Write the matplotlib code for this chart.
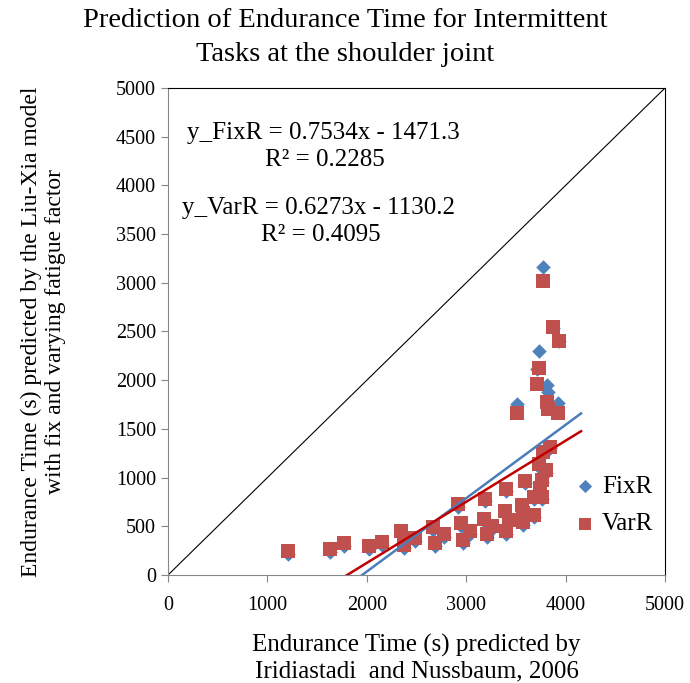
import numpy as np
import matplotlib
matplotlib.use('Agg')
from matplotlib import pyplot as plt

plt.rcParams['font.family'] = ['Liberation Serif', 'DejaVu Serif']

# Endurance time predicted by Iridiastadi and Nussbaum, 2006 (s)
x_irid = [1204, 1630, 1771, 2022, 2150, 2341, 2376, 2485, 2663, 2686,
          2777, 2920, 2950, 2970, 3038, 3189, 3182, 3256, 3212, 3400,
          3390, 3434, 3400, 3510, 3590, 3558, 3575, 3568, 3682, 3685,
          3759, 3742, 3759, 3803, 3736, 3776, 3840, 3775, 3876, 3934,
          3730, 3709, 3810, 3820, 3925]
# Liu-Xia model, varying fatigue factor
y_varR = [250, 267, 328, 298, 339, 452, 308, 380, 493, 332,
          420, 725, 537, 359, 452, 785, 578, 500, 420, 880,
          655, 565, 453, 1660, 965, 722, 633, 540, 620, 804,
          804, 890, 975, 1075, 1140, 1260, 1317, 3022, 2549, 2406,
          2129, 1958, 1779, 1701, 1660]
# Liu-Xia model, fixed fatigue factor
y_fixR = [218, 236, 298, 266, 308, 420, 278, 348, 466, 302,
          390, 700, 508, 330, 420, 760, 550, 470, 392, 858,
          628, 538, 424, 1756, 944, 700, 606, 512, 596, 780,
          782, 868, 952, 1050, 1112, 1240, 1300, 3166, 2540, 2400,
          2303, 2110, 1950, 1882, 1769]

fix_fit = (0.7534, -1471.3)
var_fit = (0.6273, -1130.2)
fit_xmax = 4155

fig = plt.figure(figsize=(6.9, 6.83), dpi=100)
ax = fig.add_axes([0.2435, 0.1581, 0.7203, 0.7131])

ax.plot([0, 5000], [0, 5000], color='black', lw=0.8, zorder=1)

ax.scatter(x_irid, y_fixR, marker='D', s=55, color='#4F81BD', label='FixR', zorder=3, linewidths=0)
ax.scatter(x_irid, y_varR, marker='s', s=110, color='#C0504D', label='VarR', zorder=4, linewidths=0)

xf = np.array([min(x_irid), fit_xmax])
ax.plot(xf, fix_fit[0] * xf + fix_fit[1], color='#4A7EBB', lw=1.8, zorder=5)
ax.plot(xf, var_fit[0] * xf + var_fit[1], color='#C00000', lw=1.8, zorder=5)

ax.set_xlim(0, 5000)
ax.set_ylim(0, 5000)
ax.set_xticks(np.arange(0, 5001, 1000))
ax.set_yticks(np.arange(0, 5001, 500))
ax.tick_params(axis='both', labelsize=14.5, color='#868686', length=5, direction='out')
ax.tick_params(axis='x', pad=10)
for side in ['left', 'bottom']:
    ax.spines[side].set_color('#868686')
for side in ['top', 'right']:
    ax.spines[side].set_color('black')

ax.text(1560, 4540, 'y_FixR = 0.7534x - 1471.3', fontsize=18, ha='center', va='center')
ax.text(1580, 4260, 'R² = 0.2285', fontsize=18, ha='center', va='center')
ax.text(1510, 3770, 'y_VarR = 0.6273x - 1130.2', fontsize=18, ha='center', va='center')
ax.text(1540, 3490, 'R² = 0.4095', fontsize=18, ha='center', va='center')

leg = ax.legend(loc='lower right', bbox_to_anchor=(1.022, 0.035), frameon=False, fontsize=18,
                handlelength=0.7, handletextpad=0.35, labelspacing=0.6, scatterpoints=1)
leg.legend_handles[0].set_sizes([45])
leg.legend_handles[1].set_sizes([70])

ax.set_xlabel('Endurance Time (s) predicted by\nIridiastadi  and Nussbaum, 2006', fontsize=18, labelpad=14)
ax.set_ylabel('Endurance Time (s) predicted by the Liu-Xia model\nwith fix and varying fatigue factor', fontsize=17, labelpad=36)
fig.suptitle('Prediction of Endurance Time for Intermittent\nTasks at the shoulder joint', fontsize=20.5, y=0.988, linespacing=1.45)

plt.savefig('out.png')
